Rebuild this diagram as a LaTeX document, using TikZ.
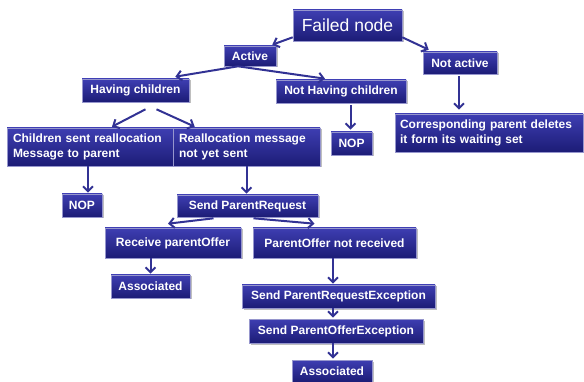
\documentclass[tikz,border=0pt]{standalone}
\usepackage{fontspec}
\setmainfont{Liberation Sans}
\usetikzlibrary{arrows.meta,shadows,calc}
\definecolor{boxtop}{RGB}{62,62,178}
\definecolor{boxbot}{RGB}{28,28,118}
\definecolor{boxline}{RGB}{150,150,205}
\definecolor{arrblue}{RGB}{50,50,148}

\begin{document}
\begin{tikzpicture}[x=1pt, y=-1pt,
    blk/.style={draw=boxline, line width=0.6pt, top color=boxtop, bottom color=boxbot,
      text=white, inner sep=0pt, font=\bfseries\fontsize{12}{14.3}\selectfont,
      drop shadow={shadow xshift=1.5pt, shadow yshift=-1.5pt, fill=black!50, opacity=0.5}},
    arr/.style={draw=arrblue, line width=2pt, -{Straight Barb[length=5pt,width=10pt]}}]
        \useasboundingbox (0,0) rectangle (584,382);
        \node[blk, minimum width=109pt, minimum height=31pt,
          font=\fontsize{17.5}{20}\selectfont] (fail) at (347.5,25.5) {Failed node};
        \node[blk, minimum width=52pt, minimum height=20pt] (act) at (250,56) {Active};
        \node[blk, minimum width=74pt, minimum height=22pt] (nact) at (460,63) {Not active};
        \node[blk, minimum width=107pt, minimum height=23pt] (hav) at (135.5,90.5) {Having children};
        \node[blk, minimum width=130pt, minimum height=23pt] (nhav) at (341,91.5) {Not Having children};
        \node[blk, minimum width=166pt, minimum height=38pt, text width=154pt, align=left]
          (sent) at (90,147) {Children sent reallocation\\Message to parent};
        \node[blk, minimum width=147pt, minimum height=38pt, text width=135pt, align=left]
          (notsent) at (246.5,147) {Reallocation message\\not yet sent};
        \node[blk, minimum width=41pt, minimum height=23pt] (nopr) at (351.5,143.5) {NOP};
        \node[blk, minimum width=188pt, minimum height=38pt, text width=178pt, align=left]
          (corr) at (489,133) {Corresponding parent deletes\\it form its waiting set};
        \node[blk, minimum width=40pt, minimum height=23pt] (nopl) at (82,205.5) {NOP};
        \node[blk, minimum width=141pt, minimum height=22pt] (sreq) at (247.5,206) {Send ParentRequest};
        \node[blk, minimum width=136pt, minimum height=30pt] (recv) at (173,243) {Receive parentOffer};
        \node[blk, minimum width=163pt, minimum height=30pt] (nrecv) at (334.5,243) {ParentOffer not received};
        \node[blk, minimum width=79pt, minimum height=23pt] (ascl) at (150.5,286.5) {Associated};
        \node[blk, minimum width=193pt, minimum height=23pt] (sprex) at (338.5,296.5) {Send ParentRequestException};
        \node[blk, minimum width=174pt, minimum height=24pt] (spoex) at (336,331) {Send ParentOfferException};
        \node[blk, minimum width=80pt, minimum height=22pt] (ascr) at (332,371) {Associated};
        % slanted connectors
        \draw[arr] ($(fail.south west)+(0,-4)$) -- ($(act.north east)+(-4,-1)$);
        \draw[arr] ($(fail.south east)+(0,-4)$) -- ($(nact.north west)+(6,-2)$);
        \draw[arr] ($(act.south)+(-12,0)$) -- ($(hav.north east)+(-14,-2)$);
        \draw[arr] ($(act.south)+(-12,0)$) -- ($(nhav.north)+(-16,-1)$);
        \draw[arr] ($(hav.south)+(10,7)$) -- ($(sent.north)+(22,-1)$);
        \draw[arr] ($(hav.south)+(21,7)$) -- ($(notsent.north west)+(22,-1)$);
        \draw[arr] ($(sreq.south)+(-34,1)$) -- ($(recv.north)+(-5,-4)$);
        \draw[arr] ($(sreq.south)+(6,1)$) -- ($(nrecv.north)+(-20,-4)$);
        % straight down
        \draw[arr] ($(nhav.south -| nopr.north)+(-1,2)$) -- ($(nopr.north)+(-1,-2)$);
        \draw[arr] ($(nact.south)+(-1,2)$) -- ($(nact.south |- corr.north)+(-1,-4)$);
        \draw[arr] ($(sent.south)+(-2,0)$) -- ($(sent.south |- nopl.north)+(-2,-1)$);
        \draw[arr] (notsent.south) -- ($(notsent.south |- sreq.north)+(0,-1)$);
        \draw[arr] (recv.south -| ascl.north) -- ($(ascl.north)+(0,-1)$);
        \foreach \a/\b in {nrecv/sprex, sprex/spoex, spoex/ascr}
        \draw[arr] ($(\a.south -| ascr.north)+(1,0)$) -- ($(\b.north -| ascr.north)+(1,-1)$);
    \end{tikzpicture}
\end{document}
